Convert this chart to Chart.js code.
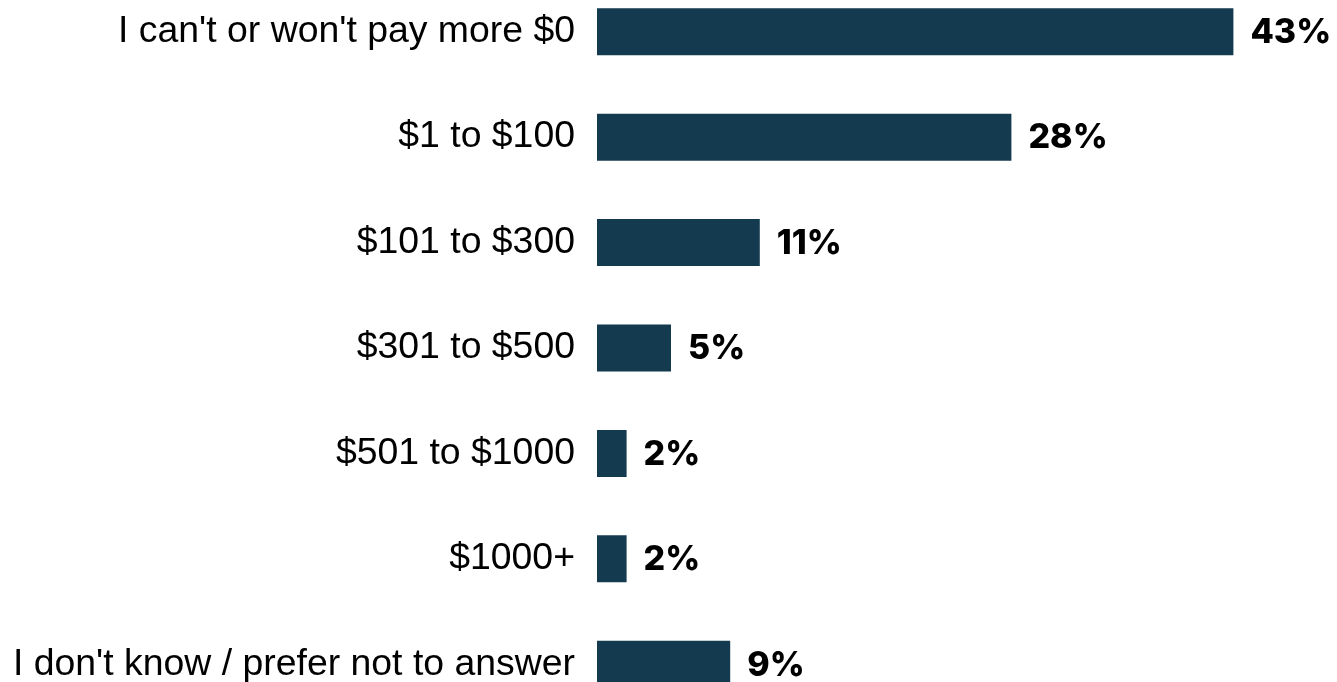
<!DOCTYPE html>
<html>
<head>
<meta charset="utf-8">
<script src="https://cdn.jsdelivr.net/npm/chart.js@4"></script>
<style>
  html, body { margin: 0; padding: 0; background: #fff; overflow: hidden; }
  body { width: 1337px; height: 682px; position: relative; }
  #wrap { position: absolute; left: 0; top: -21px; width: 1337px; height: 738px; }
</style>
</head>
<body>
<div id="wrap"><canvas id="payChart"></canvas></div>
<script>
const categories = [
    "I can't or won't pay more $0",
    "$1 to $100",
    "$101 to $300",
    "$301 to $500",
    "$501 to $1000",
    "$1000+",
    "I don't know / prefer not to answer"
];
const shares = [43, 28, 11, 5, 2, 2, 9];

// draws the bold "43%" labels at the end of each bar
const valueLabels = {
    id: "valueLabels",
    afterDatasetsDraw(chart) {
        const ctx = chart.ctx;
        const meta = chart.getDatasetMeta(0);
        ctx.save();
        ctx.font = "800 34px Inter";
        ctx.fillStyle = "#000000";
        ctx.textAlign = "left";
        ctx.textBaseline = "middle";
        meta.data.forEach((bar, i) => {
            ctx.fillText(shares[i] + "%", bar.x + 17, bar.y + 1);
        });
        ctx.restore();
    }
};

const ctx = document.getElementById("payChart").getContext("2d");
new Chart(ctx, {
    type: "bar",
    data: {
        labels: categories,
        datasets: [{
            data: shares,
            backgroundColor: "#133a4e",
            categoryPercentage: 1,
            barPercentage: 0.446
        }]
    },
    options: {
        indexAxis: "y",
        responsive: true,
        maintainAspectRatio: false,
        animation: false,
        layout: { padding: 0 },
        plugins: {
            legend: { display: false },
            tooltip: { enabled: false }
        },
        scales: {
            x: {
                display: false,
                min: 0,
                max: 50
            },
            y: {
                grid: { display: false },
                border: { display: false },
                ticks: {
                    color: "#000000",
                    padding: 14,
                    font: { family: "Liberation Sans", size: 37.4 }
                },
                afterFit(scale) {
                    scale.width = 597;
                    // no extra room above/below for the tick labels
                    scale.paddingTop = 0;
                    scale.paddingBottom = 0;
                }
            }
        }
    },
    plugins: [valueLabels]
});
</script>
</body>
</html>
